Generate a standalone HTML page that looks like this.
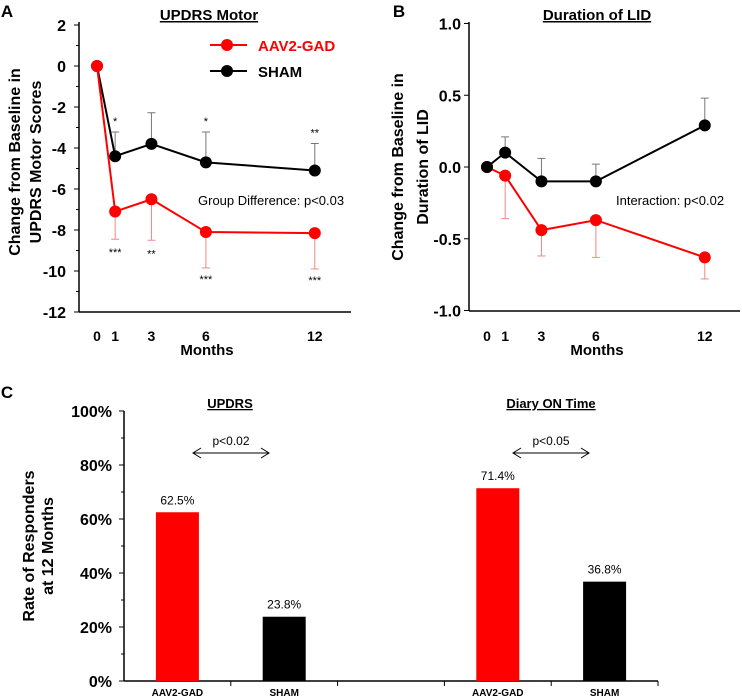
<!DOCTYPE html>
<html><head><meta charset="utf-8"><style>
body{margin:0;background:#fff}
svg{display:block;font-family:"Liberation Sans",Arial,sans-serif}
.b{font-weight:bold}
</style></head><body>
<svg id="fig" width="742" height="698" viewBox="0 0 742 698"></svg>
<script>
const months=[0,1,3,6,12];
const aRed=[0,-7.1,-6.5,-8.1,-8.15];
const aRedErr=[0,-8.45,-8.5,-9.85,-9.9];
const aBlack=[0,-4.4,-3.8,-4.7,-5.1];
const aBlackErr=[0,-3.22,-2.28,-3.22,-3.78];
const aTicks=[2,0,-2,-4,-6,-8,-10,-12];
const aStarsTop=["","*","","*","**"];
const aStarsBot=["","***","**","***","***"];
const bRed=[0,-0.06,-0.44,-0.37,-0.63];
const bRedErr=[0,-0.36,-0.62,-0.63,-0.78];
const bBlack=[0,0.1,-0.1,-0.1,0.29];
const bBlackErr=[0,0.21,0.06,0.02,0.48];
const bTicks=[1.0,0.5,0.0,-0.5,-1.0];
const cCats=["AAV2-GAD","SHAM","","AAV2-GAD","SHAM"];
const cVals=[62.5,23.8,null,71.4,36.8];
const cTicks=[0,20,40,60,80,100];
const NS="http://www.w3.org/2000/svg";
const svg=document.getElementById('fig');
function el(t,a,txt,p){const e=document.createElementNS(NS,t);for(const k in a)e.setAttribute(k,a[k]);if(txt!=null)e.textContent=txt;(p||svg).appendChild(e);return e;}
function line(x1,y1,x2,y2,c,w){return el('line',{x1,y1,x2,y2,stroke:c||'#000','stroke-width':w||1.5});}
function text(x,y,s,o){const a=Object.assign({x,y,'text-anchor':'middle','font-size':13,fill:'#000'},o||{});return el('text',a,s);}

// ---------- Panel A ----------
const ax=m=>97+18.15*m, ay=v=>66-20.5*v;
let e;
e=text(7,17,"A",{'font-size':17,'font-weight':'bold'});

e=text(209,20,"UPDRS Motor",{'font-size':15,'font-weight':'bold','text-decoration':'underline'});

line(79,22,79,312,'#000',1.5);line(79,312,351,312,'#000',1.5);
for(let v=2;v>=-12;v-=1){line(v%2===0?74:76,ay(v),79,ay(v),'#000',1);}
aTicks.forEach(t=>{e=text(66,ay(t)+6,String(t),{'text-anchor':'end','font-size':16,'font-weight':'bold'});
});
months.forEach(m=>{e=text(ax(m),341,String(m),{'font-size':14,'font-weight':'bold'});
});
e=text(207,355,"Months",{'font-size':15,'font-weight':'bold'});

e=el('text',{transform:'translate(20,162) rotate(-90)','text-anchor':'middle','font-size':16,'font-weight':'bold'},"Change from Baseline in");

el('text',{transform:'translate(41,162) rotate(-90)','text-anchor':'middle','font-size':16,'font-weight':'bold'},"UPDRS Motor Scores");
// error bars
months.forEach((m,i)=>{if(i===0)return;
 line(ax(m),ay(aRed[i]),ax(m),ay(aRedErr[i]),'#e88',1);line(ax(m)-4,ay(aRedErr[i]),ax(m)+4,ay(aRedErr[i]),'#e88',1);
 line(ax(m),ay(aBlack[i]),ax(m),ay(aBlackErr[i]),'#777',1);line(ax(m)-4,ay(aBlackErr[i]),ax(m)+4,ay(aBlackErr[i]),'#777',1);
 e=text(ax(m),ay(aBlackErr[i])-7,aStarsTop[i],{'font-size':11});
 
});
const botY=[0,258,260,285,289];
months.forEach((m,i)=>{if(!aStarsBot[i])return;e=text(ax(m),ay(aRedErr[i])+ (i===1?17:i===2?17:15),aStarsBot[i],{'font-size':11});
 });
function series(xf,yf,vals,col,name){
 e=el('polyline',{points:months.map((m,i)=>xf(m)+','+yf(vals[i])).join(' '),fill:'none',stroke:col,'stroke-width':2});
 
 months.forEach((m,i)=>{e=el('circle',{cx:xf(m),cy:yf(vals[i]),r:6,fill:col});
 });
}
series(ax,ay,aBlack,'#000','a-sham');
series(ax,ay,aRed,'#f00','a-gad');
// legend
line(210,45,247,45,'#f00',2);el('circle',{cx:227,cy:45,r:6,fill:'#f00'});
e=text(258,51,"AAV2-GAD",{'text-anchor':'start','font-size':15,'font-weight':'bold',fill:'#f00'});

line(210,71,247,71,'#000',2);el('circle',{cx:227,cy:71,r:6,fill:'#000'});
e=text(258,77,"SHAM",{'text-anchor':'start','font-size':15,'font-weight':'bold'});

e=text(198,205,"Group Difference: p<0.03",{'text-anchor':'start','font-size':13});


// ---------- Panel B ----------
const bx=m=>487+18.15*m, by=v=>167-143.5*v;
e=text(399,17,"B",{'font-size':17,'font-weight':'bold'});

e=text(597,20,"Duration of LID",{'font-size':15,'font-weight':'bold','text-decoration':'underline'});

line(469,22,469,311,'#000',1.5);line(469,311,740,311,'#000',1.5);
bTicks.forEach(t=>{line(464,by(t),469,by(t),'#000',1);
 e=text(461,by(t)+6,t.toFixed(1),{'text-anchor':'end','font-size':16,'font-weight':'bold'});
 });
months.forEach(m=>{e=text(bx(m),341,String(m),{'font-size':14,'font-weight':'bold'});
 });
e=text(597,355,"Months",{'font-size':15,'font-weight':'bold'});

e=el('text',{transform:'translate(403,167) rotate(-90)','text-anchor':'middle','font-size':16,'font-weight':'bold'},"Change from Baseline in");

el('text',{transform:'translate(428,167) rotate(-90)','text-anchor':'middle','font-size':16,'font-weight':'bold'},"Duration of LID");
months.forEach((m,i)=>{if(i===0)return;
 line(bx(m),by(bRed[i]),bx(m),by(bRedErr[i]),'#e88',1);line(bx(m)-4,by(bRedErr[i]),bx(m)+4,by(bRedErr[i]),'#e88',1);
 line(bx(m),by(bBlack[i]),bx(m),by(bBlackErr[i]),'#777',1);line(bx(m)-4,by(bBlackErr[i]),bx(m)+4,by(bBlackErr[i]),'#777',1);});
series(bx,by,bRed,'#f00','b-gad');
series(bx,by,bBlack,'#000','b-sham');
e=text(616,205,"Interaction: p<0.02",{'text-anchor':'start','font-size':13});


// ---------- Panel C ----------
const cx0=124,cw=106.8, cy=v=>681-2.7*v;
e=text(7,398,"C",{'font-size':17,'font-weight':'bold'});

line(124,411,124,681,'#000',1.5);line(124,681,658,681,'#000',1.5);
for(let v=0;v<=100;v+=10)line(v%20===0?119:121,cy(v),124,cy(v),'#000',1);
for(let k=1;k<=5;k++)line(cx0+k*cw,681,cx0+k*cw,686,'#000',1);
cTicks.forEach(t=>{e=text(112,cy(t)+6,t+"%",{'text-anchor':'end','font-size':16,'font-weight':'bold'});
 });
e=el('text',{transform:'translate(34,546) rotate(-90)','text-anchor':'middle','font-size':16,'font-weight':'bold'},"Rate of Responders");

el('text',{transform:'translate(53,546) rotate(-90)','text-anchor':'middle','font-size':16,'font-weight':'bold'},"at 12 Months");
cCats.forEach((c,i)=>{if(cVals[i]==null)return;
 const x=cx0+(i+0.5)*cw;
 e=el('rect',{x:x-21.5,y:cy(cVals[i]),width:43,height:cy(0)-cy(cVals[i]),fill:i%3===0?'#f00':'#000'});
 
 e=text(x,cy(cVals[i])-8,cVals[i].toFixed(1)+"%",{'font-size':12});
 
 e=text(x,696,c,{'font-size':10,'font-weight':'bold'});
 
});
function arrow(x1,x2,y,lbl,tx,name){
 line(x1,y,x2,y,'#000',1);
 el('polyline',{points:`${x1+8},${y-5} ${x1},${y} ${x1+8},${y+5}`,fill:'none',stroke:'#000','stroke-width':1});
 el('polyline',{points:`${x2-8},${y-5} ${x2},${y} ${x2-8},${y+5}`,fill:'none',stroke:'#000','stroke-width':1});
 e=text(tx,y-8,lbl,{'font-size':12});
 
}
arrow(193,269,453,"p<0.02",231,'updrs-p-value');
arrow(513,589,453,"p<0.05",551,'diary-p-value');
e=text(230,408,"UPDRS",{'font-size':13,'font-weight':'bold','text-decoration':'underline'});

e=text(551,408,"Diary ON Time",{'font-size':13,'font-weight':'bold','text-decoration':'underline'});

</script>
</body></html>
